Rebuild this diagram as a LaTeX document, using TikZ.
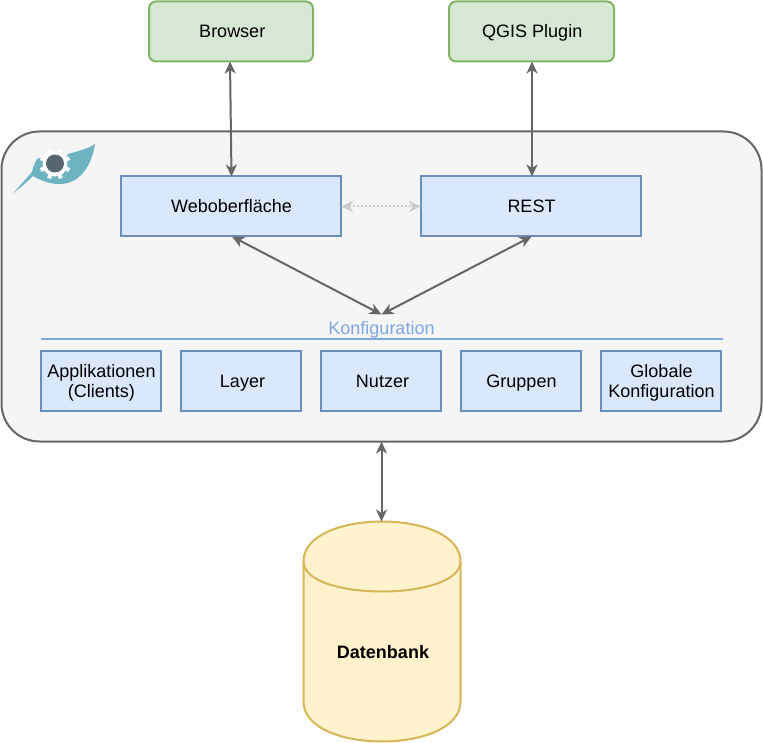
\documentclass[tikz,border=0pt]{standalone}
\usepackage{fontspec}
\setmainfont{Liberation Sans}
\usetikzlibrary{arrows.meta,shapes.geometric}
\definecolor{grnF}{HTML}{D5E8D4}\definecolor{grnD}{HTML}{82B366}
\definecolor{bluF}{HTML}{DAE8FC}\definecolor{bluD}{HTML}{6C8EBF}
\definecolor{yelF}{HTML}{FFF2CC}\definecolor{yelD}{HTML}{D6B656}
\definecolor{panF}{HTML}{F5F5F5}\definecolor{panD}{HTML}{666666}
\definecolor{konf}{HTML}{7EA6E0}\definecolor{teal}{HTML}{6FB3C0}
\definecolor{eye}{HTML}{56666F}
\newcommand{\lineone}{\rule[-5pt]{0pt}{23pt}}
\newcommand{\linetop}{\rule{0pt}{17pt}}
\tikzset{
  x=1pt,y=1pt,
  every node/.style={font=\fontsize{18}{20.5}\selectfont,align=center,inner sep=0pt,outer sep=0pt},
  client/.style={draw=grnD,fill=grnF,line width=2pt,rounded corners=7pt,minimum height=60pt},
  part/.style={draw=bluD,fill=bluF,line width=2pt,minimum width=220pt,minimum height=60pt},
  item/.style={draw=bluD,fill=bluF,line width=2pt,minimum width=120pt,minimum height=60pt},
  link/.style={draw=panD,line width=2pt,{Stealth[length=12pt,width=11pt,inset=3.5pt]}-{Stealth[length=12pt,width=11pt,inset=3.5pt]}},
  faint/.style={draw=black!20,line width=2pt,dash pattern=on 2pt off 2pt,{Stealth[length=12pt,width=11pt,inset=3.5pt,fill=black!20]}-{Stealth[length=12pt,width=11pt,inset=3.5pt,fill=black!20]}}
}
\begin{document}
\begin{tikzpicture}
\useasboundingbox (0,0) rectangle (763,-743);
\node[draw=panD,fill=panF,line width=2pt,rounded corners=38pt,minimum width=760pt,minimum height=310pt] (panel) at (381.5,-286.5) {};
\node[client,minimum width=164pt] (browser) at (231,-31.5) {\lineone\hspace{2.5pt}Browser};
\node[client,minimum width=165pt] (qgis) at (531.5,-31.5) {\lineone\hspace{1.5pt}QGIS Plugin};
\node[part] (web) at (231,-206.5) {\lineone\hspace{1pt}Weboberfläche};
\node[part] (rest) at (531,-206.5) {\lineone\hspace{1pt}REST};
\coordinate (hub) at (381.5,-314.5);
\coordinate (browserport) at (230,-61.5);
\coordinate (webtop) at (231.5,-176.5);
\coordinate (qgisport) at (532,-61.5);
\coordinate (resttop) at (532,-176.5);
\coordinate (webfoot) at (232,-236.5);
\coordinate (restfoot) at (531.5,-236.5);
\node[text=konf] (konf) at (381.5,-328) {\lineone Konfiguration};
\coordinate (ruleL) at (40.5,-338.5);
\coordinate (ruleR) at (722.5,-338.5);
\draw[draw=konf,line width=2pt] (ruleL) -- (ruleR);
\node[item] (apps) at (101,-381) {\linetop\hspace{1pt}Applikationen\\\hspace{1pt}(Clients)};
\node[item] (layer) at (241,-381) {\lineone\hspace{3pt}Layer};
\node[item] (nutzer) at (381,-381) {\lineone\hspace{3pt}Nutzer};
\node[item] (gruppen) at (521,-381) {\lineone\hspace{1pt}Gruppen};
\node[item] (global) at (661,-381) {\linetop\hspace{1pt}Globale\\\hspace{1pt}Konfiguration};
% database (cylinder outline as a flowchart tool draws it)
\path[draw=yelD,fill=yelF,line width=2pt]
  (303.5,-561.5) .. controls (303.5,-508.17) and (460.5,-508.17) .. (460.5,-561.5)
  -- (460.5,-701.5) .. controls (460.5,-754.83) and (303.5,-754.83) .. (303.5,-701.5) -- cycle;
\draw[yelD,line width=2pt] (303.5,-561.5) .. controls (303.5,-601.5) and (460.5,-601.5) .. (460.5,-561.5);
\node[font=\fontsize{18}{20.5}\selectfont\bfseries] (db) at (383,-652) {\lineone Datenbank};
\coordinate (dbtop) at (381.5,-521.5);
% connectors
\draw[link] (browserport) -- (webtop);
\draw[link] (qgisport) -- (resttop);
\draw[faint] (web.east) -- (rest.west);
\draw[link] (webfoot) -- (hub);
\draw[link] (restfoot) -- (hub);
\draw[link] (panel.south) -- (dbtop);
% logo
\fill[teal] (95,-144) .. controls (88,-149) and (78,-151) .. (68,-154)
  -- (60,-170) -- (48,-170) -- (43,-157) -- (37,-159) -- (35,-163)
  .. controls (33,-166) and (33,-169) .. (32,-172)
  -- (13,-193.5) .. controls (20,-188) and (27,-182) .. (33,-176)
  .. controls (40,-180) and (50,-184.5) .. (60,-184)
  .. controls (80,-184) and (92,-165) .. (95,-144) -- cycle;
\fill[white] (55,-164) circle[radius=12.5];
\foreach \a in {22.5,67.5,...,337.5}{\fill[white,rotate around={\a:(55,-164)}] (53,-179.5) rectangle (57,-170);}
\fill[eye] (55,-163.5) circle[radius=9];
\end{tikzpicture}
\end{document}
